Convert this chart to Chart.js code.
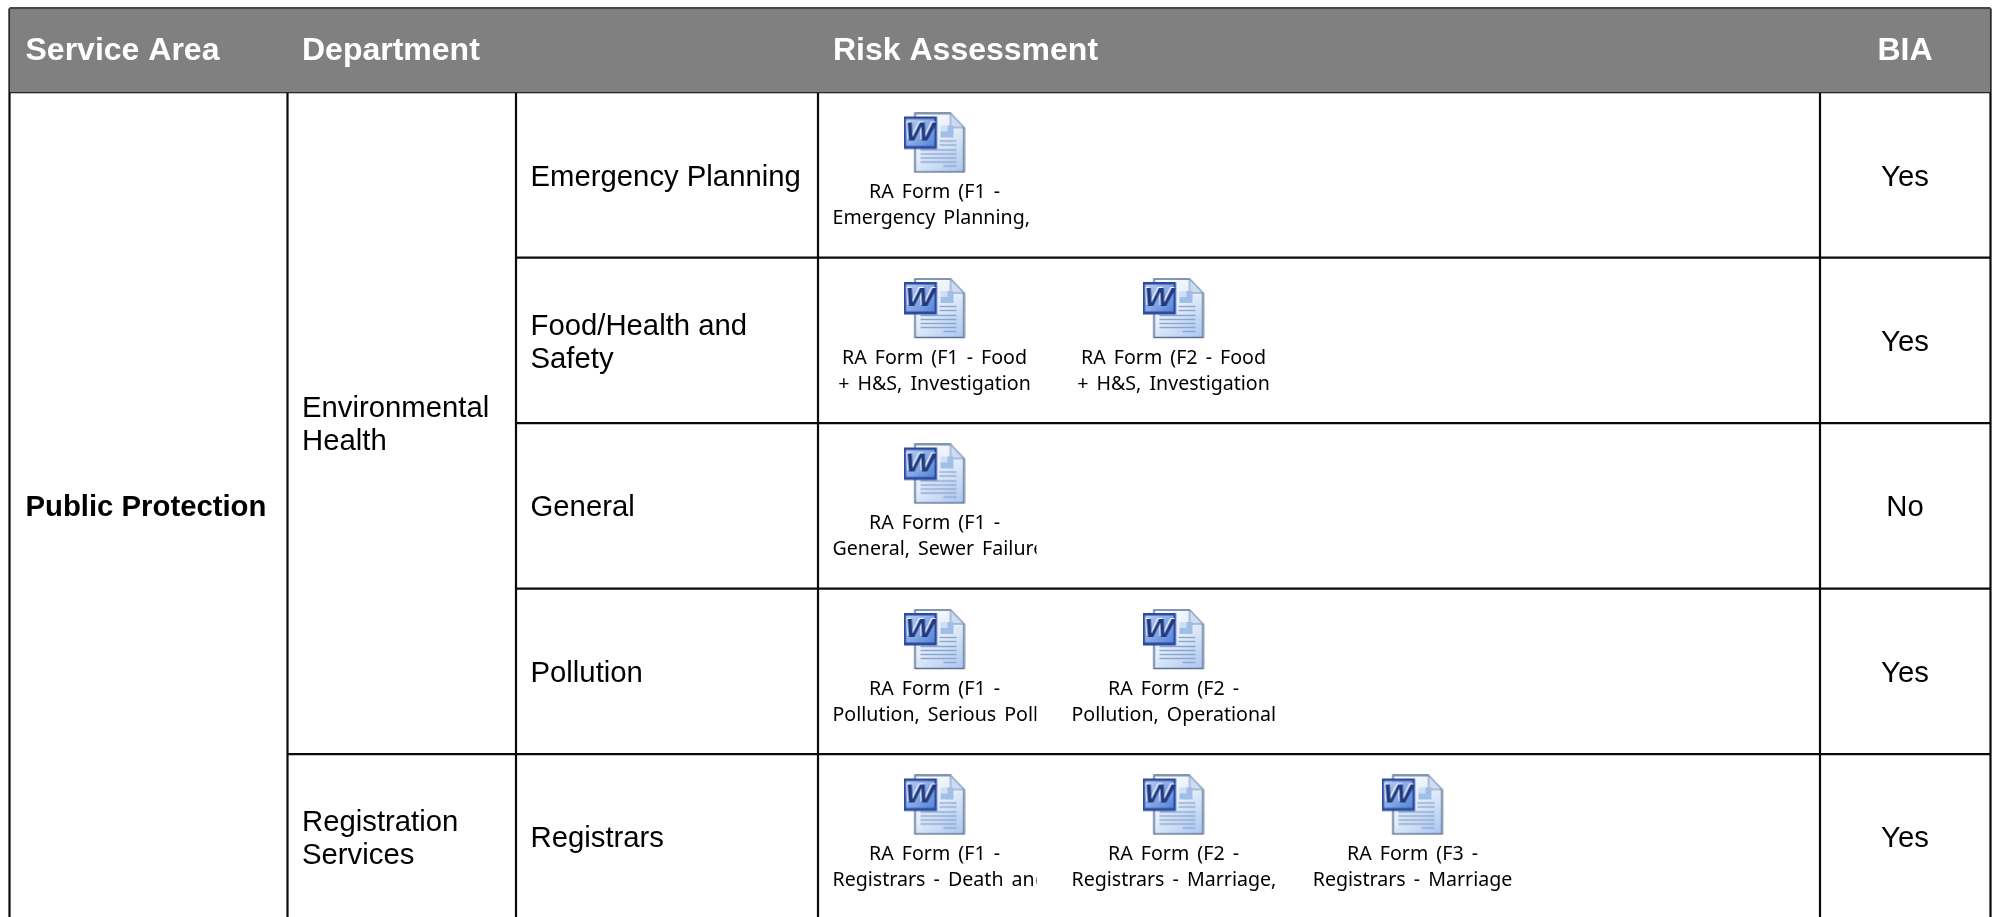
<!DOCTYPE html>
<html lang="en">
<head>
  <meta charset="UTF-8" />
  <title>Risk Assessment</title>
  <script src="https://cdn.jsdelivr.net/npm/chart.js"></script>
  <style>
    html, body { margin: 0; padding: 0; background: #fff; overflow: hidden; }
    #wrap { width: 1998px; height: 917px; }
  </style>
</head>
<body>
  <div id="wrap"><canvas id="tabla"></canvas></div>

  <script>
    const headers = ['Service Area', 'Department', 'Risk Assessment', 'BIA'];
    const serviceAreas = ['Public Protection'];
    const departments = [['Environmental', 'Health'], ['Registration', 'Services']];
    const departmentRows = [4, 1];
    const teams = [['Emergency Planning'], ['Food/Health and', 'Safety'], ['General'], ['Pollution'], ['Registrars']];
    const bia = ['Yes', 'Yes', 'No', 'Yes', 'Yes'];
    const forms = [
      [['RA Form (F1 -', 'Emergency Planning, ']],
      [['RA Form (F1 - Food', '+ H&S, Investigation'], ['RA Form (F2 - Food', '+ H&S, Investigation']],
      [['RA Form (F1 -', 'General, Sewer Failure']],
      [['RA Form (F1 -', 'Pollution, Serious Pollution'], ['RA Form (F2 -', 'Pollution, Operational']],
      [['RA Form (F1 -', 'Registrars - Death and'], ['RA Form (F2 -', 'Registrars - Marriage,'], ['RA Form (F3 -', 'Registrars - Marriage']]
    ];

    // table layout, x axis is in page px, y axis in rows (row 0 starts under the header)
    const colEdges = [9.5, 287.5, 516, 818, 1820, 1990.5];
    const headerTop = -0.506;
    const rowCount = teams.length;
    const slotFirst = 934.5, slotStep = 239, slotWidth = 204;
    const lineColor = '#0a0a0a';

    function segment(x0, y0, x1, y1) {
      return {
        type: 'scatter', showLine: true, pointRadius: 0, borderColor: lineColor, borderWidth: 2.2,
        data: [{ x: x0, y: y0 }, { x: x1, y: y1 }]
      };
    }

    const datasets = [];

    // header band
    datasets.push({
      type: 'line', data: [{ x: colEdges[0], y: headerTop }, { x: colEdges[5], y: headerTop }],
      pointRadius: 0, borderWidth: 0, backgroundColor: '#808080', fill: { value: 0 }
    });

    // borders
    datasets.push(segment(colEdges[0], headerTop, colEdges[5], headerTop));
    datasets.push(segment(colEdges[0], 0, colEdges[5], 0));
    [0, 1, 3, 4, 5].forEach(i => datasets.push(segment(colEdges[i], headerTop, colEdges[i], rowCount)));
    datasets.push(segment(colEdges[2], 0, colEdges[2], rowCount));
    for (let r = 1; r < rowCount; r++) {
      const from = departmentRows[0] === r ? colEdges[1] : colEdges[2];
      datasets.push(segment(from, r, colEdges[5], r));
    }

    // word icon used as the point style of the forms
    function makeIcon() {
      const raw = document.createElement('canvas');
      raw.width = 62; raw.height = 61;
      const g = raw.getContext('2d');
      const page = g.createLinearGradient(12, 0, 60, 60);
      page.addColorStop(0, '#ffffff');
      page.addColorStop(0.5, '#e3edfb');
      page.addColorStop(1, '#a9c5ee');
      g.beginPath();
      g.moveTo(11.5, 1); g.lineTo(47, 1); g.lineTo(60.5, 15); g.lineTo(60.5, 59.5); g.lineTo(11.5, 59.5); g.closePath();
      g.fillStyle = page; g.fill();
      g.strokeStyle = '#5d7391'; g.lineWidth = 1.6; g.stroke();
      // fold
      g.beginPath();
      g.moveTo(47, 1); g.lineTo(47, 15); g.lineTo(60.5, 15); g.closePath();
      g.fillStyle = '#cddcf3'; g.fill();
      g.strokeStyle = '#7f95b6'; g.lineWidth = 1; g.stroke();
      // small picture
      g.fillStyle = '#9fbfe8'; g.fillRect(37, 13, 13, 12);
      g.fillStyle = '#cfe0f5'; g.fillRect(37, 13, 7, 6);
      // text lines
      g.strokeStyle = '#8aa6d0'; g.lineWidth = 1.4;
      [37.5, 41.5, 45.5, 49.5].forEach(y => {
        g.beginPath(); g.moveTo(17, y); g.lineTo(53, y); g.stroke();
      });
      g.beginPath(); g.moveTo(40, 53.5); g.lineTo(53, 53.5); g.stroke();
      [28.5, 32.5].forEach(y => {
        g.beginPath(); g.moveTo(36, y); g.lineTo(53, y); g.stroke();
      });
      // W box
      const box = g.createLinearGradient(0, 4, 33, 36);
      box.addColorStop(0, '#c3d6f5');
      box.addColorStop(1, '#4f7ed4');
      g.fillStyle = '#2a4ba0'; g.fillRect(0, 4, 33.5, 32.5);
      g.fillStyle = box; g.fillRect(2.5, 6.5, 28.5, 27);
      g.save();
      g.translate(16.5, 20.5);
      g.scale(1.2, 1);
      g.font = 'italic bold 26px "Liberation Sans"';
      g.textAlign = 'center'; g.textBaseline = 'middle';
      g.fillStyle = '#f4f7ff';
      g.fillText('W', -1, -1);
      g.fillStyle = '#1f3a80';
      g.fillText('W', 0, 0);
      g.restore();

      const c = document.createElement('canvas');
      c.width = 62; c.height = 61;
      const out = c.getContext('2d');
      out.filter = 'blur(0.5px)';
      out.drawImage(raw, 0, 0);
      return c;
    }
    const icon = makeIcon();

    const iconPoints = [];
    forms.forEach((list, r) => list.forEach((f, i) => {
      iconPoints.push({ x: slotFirst + slotStep * i, y: r + 0.307 });
    }));
    datasets.push({ type: 'scatter', data: iconPoints, pointStyle: icon, pointRadius: 30 });

    // cell texts, drawn through the scales
    const cellText = {
      id: 'cellText',
      afterDatasetsDraw(chart) {
        const ctx = chart.ctx, xs = chart.scales.x, ys = chart.scales.y;
        const put = (lines, x, yRow, font, color, align, gap) => {
          ctx.font = font; ctx.fillStyle = color; ctx.textAlign = align; ctx.textBaseline = 'middle';
          const yMid = ys.getPixelForValue(yRow) + 2.5;
          lines.forEach((t, i) => {
            ctx.fillText(t, xs.getPixelForValue(x), yMid + (i - (lines.length - 1) / 2) * gap);
          });
        };
        ctx.save();
        const headFont = 'bold 32px "Liberation Sans"';
        const bodyFont = '29.3px "Liberation Sans"';
        const boldFont = 'bold 29.3px "Liberation Sans"';
        const headY = headerTop / 2 - 0.008;
        put([headers[0]], 25.5, headY, headFont, '#fff', 'left', 33);
        put([headers[1]], 302, headY, headFont, '#fff', 'left', 33);
        put([headers[2]], 833, headY, headFont, '#fff', 'left', 33);
        put([headers[3]], 1905, headY, headFont, '#fff', 'center', 33);

        put(serviceAreas, 25.5, rowCount / 2, boldFont, '#000', 'left', 33);
        let start = 0;
        departments.forEach((d, i) => {
          put(d, 302, start + departmentRows[i] / 2, bodyFont, '#000', 'left', 33);
          start += departmentRows[i];
        });
        const labelFont = '19.6px "Noto Sans"';
        teams.forEach((t, r) => {
          put(t, 530.5, r + 0.5, bodyFont, '#000', 'left', 33);
          put([bia[r]], 1905, r + 0.5, bodyFont, '#000', 'center', 33);
          forms[r].forEach((f, i) => {
            const cx = slotFirst + slotStep * i;
            const left = cx - slotWidth / 2;
            const leftPx = xs.getPixelForValue(left);
            ctx.save();
            ctx.beginPath();
            ctx.rect(leftPx, ys.getPixelForValue(r), slotWidth, ys.getPixelForValue(r + 1) - ys.getPixelForValue(r));
            ctx.clip();
            ctx.wordSpacing = '3px';
            f.forEach((line, k) => {
              // too long for the object box: starts at its left edge and is cut off
              ctx.font = labelFont;
              const tooLong = ctx.measureText(line).width > slotWidth;
              const yRow = r + 0.671 + (k - 0.5) * 26 / (ys.getPixelForValue(1) - ys.getPixelForValue(0));
              put([line], tooLong ? left : cx, yRow, labelFont, '#000', tooLong ? 'left' : 'center', 26);
            });
            ctx.restore();
          });
        });
        ctx.restore();
      }
    };

    new Chart(document.getElementById('tabla'), {
      type: 'scatter',
      data: { datasets },
      plugins: [cellText],
      options: {
        responsive: true,
        maintainAspectRatio: false,
        animation: false,
        layout: { padding: 0, autoPadding: false },
        plugins: { legend: { display: false }, tooltip: { enabled: false } },
        scales: {
          x: { type: 'linear', display: false, min: 0, max: 1998 },
          y: { type: 'linear', display: false, reverse: true, min: -0.557, max: 4.984 }
        }
      }
    });
  </script>
</body>
</html>
